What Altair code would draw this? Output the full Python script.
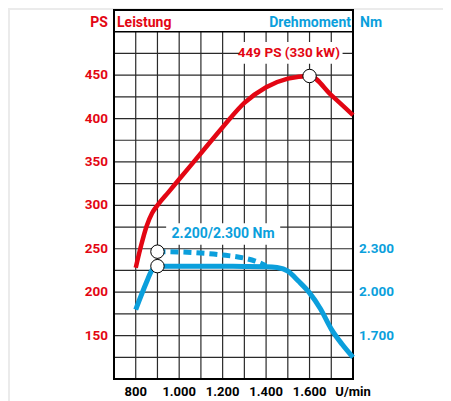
import altair as alt
import pandas as pd

# ---------------- data ----------------
power_rpm = [800, 825, 850, 875, 900, 950, 1000, 1100, 1200, 1300, 1400, 1500, 1600, 1700, 1800]
power_ps = [228, 254, 276, 291, 300, 315, 330, 360, 390, 418, 436, 446, 449, 427, 404]

torque_rpm = [800, 850, 870, 900, 1000, 1100, 1200, 1300, 1400, 1450, 1500, 1550, 1600, 1650, 1700, 1750, 1800]
torque_nm = [1880, 2070, 2140, 2180, 2180, 2180, 2179, 2178, 2176, 2170, 2145, 2075, 1995, 1885, 1745, 1640, 1550]

overboost_rpm = [900, 1000, 1100, 1200, 1300, 1350, 1400]
overboost_nm = [2280, 2278, 2270, 2257, 2235, 2215, 2182]

peak_rpm = [1600]
peak_ps = [449]
marker_rpm = [900, 900]
marker_nm = [2280, 2180]

x_ticks = [800, 1000, 1200, 1400, 1600]
x_labels = ["800", "1.000", "1.200", "1.400", "1.600"]
x_unit = "U/min"
ps_ticks = [150, 200, 250, 300, 350, 400, 450]
nm_ticks = [1700, 2000, 2300]
nm_labels = ["1.700", "2.000", "2.300"]
grid_x = list(range(800, 1800, 100))
grid_y = list(range(125, 500, 25))

RED = "#e30613"
BLUE = "#0b9fdc"
FONT = "Roboto"

W, H = 239, 369
PAD = {"left": 106, "top": 2, "right": 90, "bottom": 22}

X = alt.Scale(domain=[700, 1800], nice=False, zero=False)
YPS = alt.Scale(domain=[100, 525], nice=False, zero=False)
YNM = alt.Scale(domain=[1400, 3950], nice=False, zero=False)

one = pd.DataFrame({"a": [0]})

panel = alt.Chart(one).mark_rect(color="white").encode(
    x=alt.value(-PAD["left"] + 2), x2=alt.value(W + PAD["right"]),
    y=alt.value(0), y2=alt.value(H + PAD["bottom"]),
)

vgrid = alt.Chart(pd.DataFrame({"x": grid_x, "y1": [100] * len(grid_x), "y2": [500] * len(grid_x)})).mark_rule(
    color="#2a2a2a", strokeWidth=1.2
).encode(
    x=alt.X("x:Q", scale=X, axis=None),
    y=alt.Y("y1:Q", scale=YPS, axis=None),
    y2="y2:Q",
)
hgrid = alt.Chart(pd.DataFrame({"y": grid_y, "x1": [700] * len(grid_y), "x2": [1800] * len(grid_y)})).mark_rule(
    color="#2a2a2a", strokeWidth=1.2
).encode(
    y=alt.Y("y:Q", scale=YPS, axis=None),
    x=alt.X("x1:Q", scale=X, axis=None),
    x2="x2:Q",
)
header_line = alt.Chart(pd.DataFrame({"y": [500], "x1": [700], "x2": [1800]})).mark_rule(
    color="black", strokeWidth=1.6
).encode(
    y=alt.Y("y:Q", scale=YPS, axis=None),
    x=alt.X("x1:Q", scale=X, axis=None),
    x2="x2:Q",
)
frame = alt.Chart(pd.DataFrame({"x1": [700], "x2": [1800], "y1": [100], "y2": [525]})).mark_rect(
    filled=False, stroke="black", strokeWidth=2
).encode(
    x=alt.X("x1:Q", scale=X, axis=None), x2="x2:Q",
    y=alt.Y("y1:Q", scale=YPS, axis=None), y2="y2:Q",
)

# white boxes behind annotations
boxes = alt.Chart(pd.DataFrame({
    "x1": [1280, 940], "x2": [1752, 1465], "y1": [463, 254.5], "y2": [488, 279.5]
})).mark_rect(color="white").encode(
    x=alt.X("x1:Q", scale=X, axis=None), x2="x2:Q",
    y=alt.Y("y1:Q", scale=YPS, axis=None), y2="y2:Q",
)


def texts(xs, ys, txts, color, yscale=YPS, align="center", dx=0, dy=0, size=14):
    return alt.Chart(pd.DataFrame({"x": xs, "y": ys, "t": txts})).mark_text(
        align=align, baseline="middle", dx=dx, dy=dy, color=color, fontSize=size,
        font=FONT, fontWeight="bold"
    ).encode(
        x=alt.X("x:Q", scale=X, axis=None),
        y=alt.Y("y:Q", scale=yscale, axis=None),
        text="t:N",
    )


t_ps = texts([700], [510], ["PS"], RED, align="right", dx=-6)
t_leist = texts([700], [510], ["Leistung"], RED, align="left", dx=3)
t_dreh = texts([1800], [510], ["Drehmoment"], BLUE, align="right", dx=-2)
t_nm = texts([1800], [510], ["Nm"], BLUE, align="left", dx=7)
t_peak = texts([1505], [475.5], ["449 PS (330 kW)"], RED, size=13.5)
t_torque = texts([1202], [267], ["2.200/2.300 Nm"], BLUE, size=14)

# axis labels
ax_left = texts([700] * len(ps_ticks), ps_ticks, [str(v) for v in ps_ticks], RED,
                align="right", dx=-6, size=13.5)
ax_bottom = texts(x_ticks + [1800], [100] * (len(x_ticks) + 1), x_labels + [x_unit], "black",
                  dy=13, size=13)

power_line = alt.Chart(pd.DataFrame({"rpm": power_rpm, "ps": power_ps})).mark_line(
    color=RED, strokeWidth=4.5, interpolate="monotone", strokeCap="butt"
).encode(
    x=alt.X("rpm:Q", scale=X, axis=None),
    y=alt.Y("ps:Q", scale=YPS, axis=None),
)
peak_pt = alt.Chart(pd.DataFrame({"rpm": peak_rpm, "ps": peak_ps})).mark_point(
    shape="circle", filled=True, fill="white", stroke="black", strokeWidth=1, size=180, opacity=1
).encode(
    x=alt.X("rpm:Q", scale=X, axis=None),
    y=alt.Y("ps:Q", scale=YPS, axis=None),
)

ps_group = alt.layer(panel, vgrid, hgrid, header_line, frame, boxes,
                     t_ps, t_leist, t_dreh, t_nm, t_peak, t_torque,
                     ax_left, ax_bottom, power_line, peak_pt)

torque_line = alt.Chart(pd.DataFrame({"rpm": torque_rpm, "nm": torque_nm})).mark_line(
    color=BLUE, strokeWidth=5, interpolate="monotone", strokeCap="butt"
).encode(
    x=alt.X("rpm:Q", scale=X, axis=None),
    y=alt.Y("nm:Q", scale=YNM, axis=None),
)
overboost_line = alt.Chart(pd.DataFrame({"rpm": overboost_rpm, "nm": overboost_nm})).mark_line(
    color=BLUE, strokeWidth=5, interpolate="monotone", strokeCap="butt", strokeDash=[8, 5]
).encode(
    x=alt.X("rpm:Q", scale=X, axis=None),
    y=alt.Y("nm:Q", scale=YNM, axis=None),
)
torque_pts = alt.Chart(pd.DataFrame({"rpm": marker_rpm, "nm": marker_nm})).mark_point(
    shape="circle", filled=True, fill="white", stroke="black", strokeWidth=1, size=180, opacity=1
).encode(
    x=alt.X("rpm:Q", scale=X, axis=None),
    y=alt.Y("nm:Q", scale=YNM, axis=None),
)
ax_right = texts([1800] * len(nm_ticks), nm_ticks, nm_labels, BLUE, yscale=YNM,
                 align="left", dx=6, size=13.5)

nm_group = alt.layer(overboost_line, torque_line, torque_pts, ax_right)

chart = alt.layer(ps_group, nm_group).resolve_scale(y="independent").properties(
    width=W, height=H, padding=PAD,
    autosize=alt.AutoSizeParams(type="none"),
    background="#ebebeb",
).configure_view(stroke=None)

chart.save("out.html", embed_options={"renderer": "svg", "actions": False})
